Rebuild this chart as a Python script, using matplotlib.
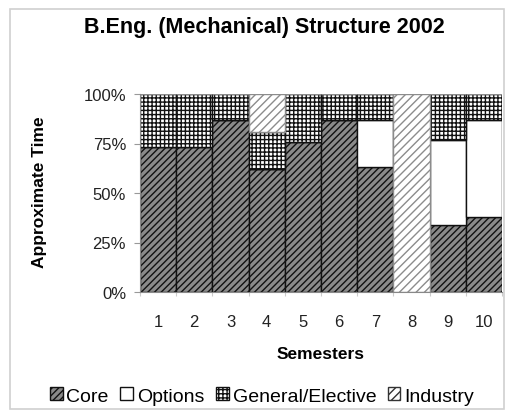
import matplotlib
matplotlib.use("Agg")
import matplotlib.pyplot as plt
from matplotlib.patches import Rectangle, Patch
from matplotlib.ticker import FuncFormatter, FixedLocator

plt.rcParams['font.family'] = ['Liberation Sans', 'DejaVu Sans']
plt.rcParams['hatch.linewidth'] = 1.0

semesters = ['1', '2', '3', '4', '5', '6', '7', '8', '9', '10']
core = [73, 73, 87, 62, 76, 87, 63, 0, 34, 38]
options = [0, 0, 0, 0, 0, 0, 24, 0, 43, 49]
general = [27, 27, 13, 19, 24, 13, 13, 0, 23, 13]
industry = [0, 0, 0, 19, 0, 0, 0, 100, 0, 0]

fig = plt.figure(figsize=(5.10, 4.14), dpi=100)
fig.patches.append(Rectangle((10/510, 4/414), 494/510, 400/414, transform=fig.transFigure,
                             fill=False, edgecolor='#d0d0d0', linewidth=1.2))
ax = fig.add_axes([140/510, 1 - 293/414, 362/510, 198/414])

x = list(range(len(semesters)))
styles = {
    'Core': dict(facecolor='#8a8a8a', hatch='/////', edgecolor='#111111'),
    'Options': dict(facecolor='white', hatch='', edgecolor='#111111'),
    'General/Elective': dict(facecolor='white', hatch='++++', edgecolor='#111111'),
    'Industry': dict(facecolor='white', hatch='////', edgecolor='#8c8c8c'),
}
series = [('Core', core), ('Options', options), ('General/Elective', general), ('Industry', industry)]
bottom = [0] * len(x)
for name, vals in series:
    st = styles[name]
    ax.bar(x, vals, width=1.0, bottom=bottom, facecolor=st['facecolor'], hatch=st['hatch'],
           edgecolor=st['edgecolor'], linewidth=1.0, label=name)
    bottom = [b + v for b, v in zip(bottom, vals)]

ax.set_xlim(-0.5, len(x) - 0.5)
ax.set_ylim(0, 100)
ax.set_yticks([0, 25, 50, 75, 100])
ax.yaxis.set_major_formatter(FuncFormatter(lambda v, p: f"{int(v)}%"))
ax.set_xticks(x)
ax.set_xticklabels(semesters)
ax.xaxis.set_minor_locator(FixedLocator([i - 0.5 for i in range(len(x) + 1)]))
ax.tick_params(axis='x', which='major', length=0, pad=16)
ax.tick_params(axis='x', which='minor', length=3, color='#cccccc', width=0.8)
ax.tick_params(axis='both', which='major', labelsize=12, labelcolor='#222222')
ax.tick_params(axis='y', length=4, width=0.8, color='#999999', pad=6)
for s in ['top', 'right']:
    ax.spines[s].set_visible(False)
ax.spines['left'].set_color('#888888')
ax.spines['bottom'].set_color('#888888')

ax.set_xlabel('Semesters', fontsize=12.5, fontweight='bold', labelpad=12)
fig.text(40/510, 1 - 192/414, 'Approximate Time', rotation=90, fontsize=12.5,
         fontweight='bold', ha='center', va='center')
fig.text(264/510, 1 - 27/414, 'B.Eng. (Mechanical) Structure 2002', fontsize=15.5,
         fontweight='bold', ha='center', va='center')

handles = [Patch(facecolor=styles[n]['facecolor'], hatch=styles[n]['hatch'],
                 edgecolor='#111111' if n != 'Industry' else '#333333', linewidth=1.0, label=n)
           for n, _ in series]
fig.legend(handles=handles, loc='center', bbox_to_anchor=(262/510, 1 - 397/414), ncol=4,
           frameon=False, fontsize=14, handlelength=0.65, handleheight=0.65,
           handletextpad=0.2, columnspacing=0.6, borderpad=0)

fig.savefig('out.png', dpi=100)
